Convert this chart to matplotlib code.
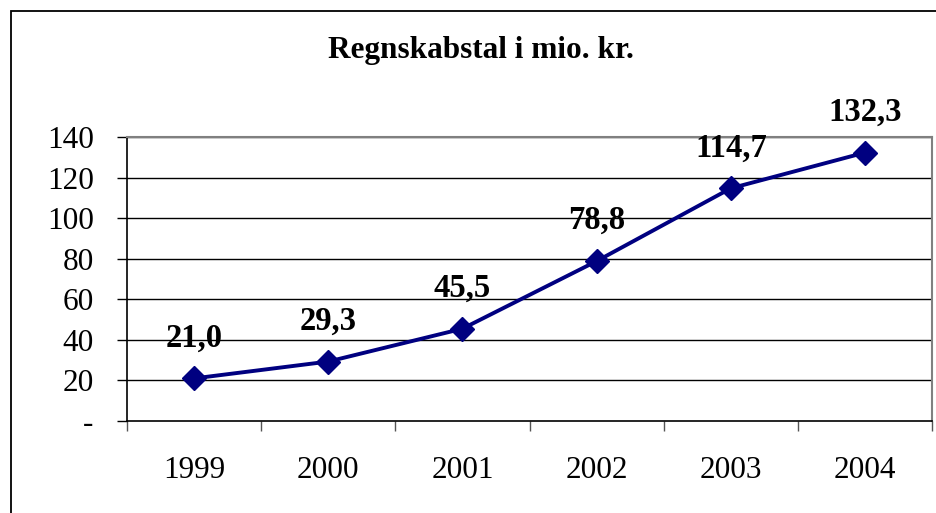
import matplotlib.pyplot as plt
from matplotlib.patches import Rectangle

# Data
years = ["1999", "2000", "2001", "2002", "2003", "2004"]
values = [21.0, 29.3, 45.5, 78.8, 114.7, 132.3]
labels = ["21,0", "29,3", "45,5", "78,8", "114,7", "132,3"]
yticks = [0, 20, 40, 60, 80, 100, 120, 140]
yticklabels = ["-", "20", "40", "60", "80", "100", "120", "140"]

plt.rcParams['font.family'] = ['Liberation Serif', 'DejaVu Serif']

fig = plt.figure(figsize=(9.36, 5.13), dpi=100)
ax = fig.add_axes([127 / 936, 1 - 421 / 513, 805 / 936, 284 / 513])

# outer chart border (extends past right/bottom edge)
fig.patches.append(Rectangle((11 / 936, -0.1), 1.1, 1 - 11 / 513 + 0.1,
                             transform=fig.transFigure, fill=False,
                             edgecolor='black', linewidth=1.3))

x = list(range(len(years)))
ax.plot(x, values, color='#000080', linewidth=2.8, marker='D',
        markersize=12, markerfacecolor='#000080', markeredgecolor='#000080',
        zorder=3)

for xi, v, lab in zip(x, values, labels):
    ax.annotate(lab, (xi, v), xytext=(0, 23), textcoords='offset points',
                ha='center', va='baseline', fontsize=23.5, fontweight='bold',
                annotation_clip=False)

ax.set_xlim(-0.5, len(years) - 0.5)
ax.set_ylim(0, 140)

ax.set_yticks(yticks)
ax.set_yticklabels(yticklabels, fontsize=22.5)
ax.set_xticks(x)
ax.set_xticklabels(years, fontsize=22.5)
ax.set_xticks([i - 0.5 for i in range(len(years) + 1)], minor=True)

ax.tick_params(axis='y', direction='out', length=7, width=1, pad=17)
ax.tick_params(axis='x', which='major', length=0, pad=25)
ax.tick_params(axis='x', which='minor', direction='out', length=7,
               width=1, color='#555555')

for y in yticks[1:]:
    ax.axhline(y, color='black', linewidth=1, zorder=1)

ax.spines['left'].set_color('black')
ax.spines['bottom'].set_color('black')
ax.spines['left'].set_linewidth(1.2)
ax.spines['bottom'].set_linewidth(1.2)
ax.spines['top'].set_color('#808080')
ax.spines['right'].set_color('#808080')
ax.spines['top'].set_linewidth(1.5)
ax.spines['right'].set_linewidth(1.5)

fig.text(481 / 936, 1 - 51 / 513, "Regnskabstal i mio. kr.", ha='center',
         va='center', fontsize=22.5, fontweight='bold')

fig.savefig("out.png", dpi=100)
